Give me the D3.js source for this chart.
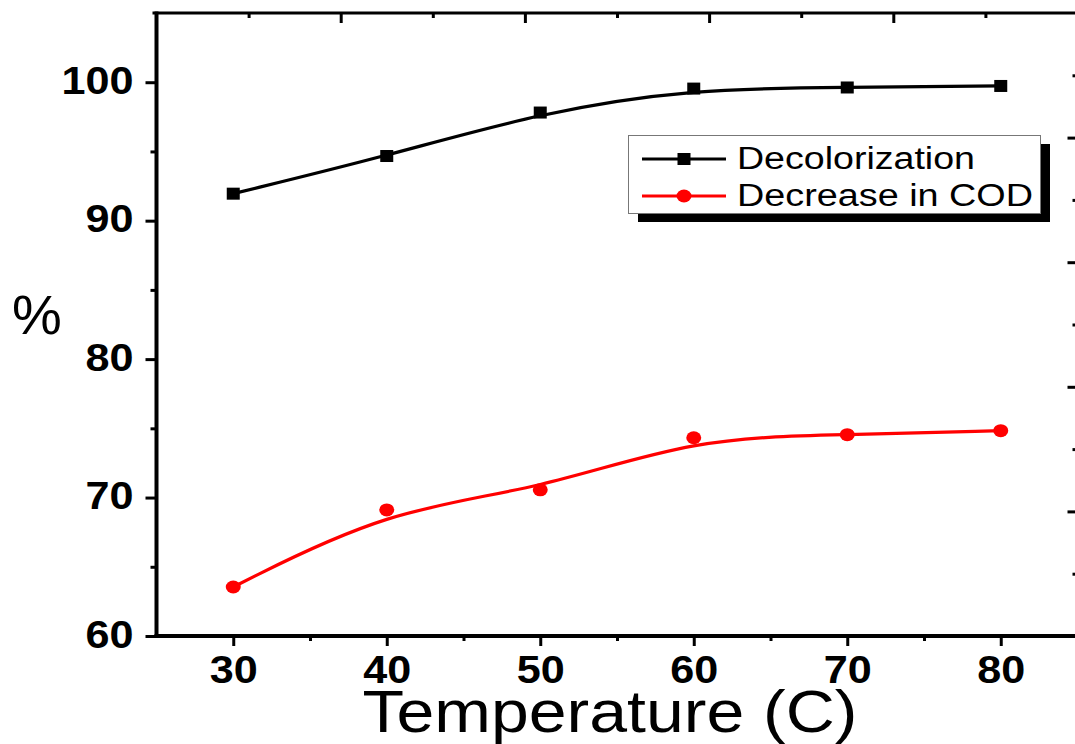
<!DOCTYPE html>
<html>
<head>
<meta charset="utf-8">
<script src="https://cdn.jsdelivr.net/npm/d3@7"></script>
<style>
  html, body { margin: 0; padding: 0; background: #fff; }
  svg { display: block; font-family: "Liberation Sans", Arial, sans-serif; }
</style>
</head>
<body>
<svg id="chart" width="1075" height="744"></svg>
<script>
// ---- data ----
const temperatures = [30, 40, 50, 60, 70, 80];
const decolorization = [91.95, 94.67, 97.81, 99.54, 99.62, 99.73];
const codDecrease = [63.54, 69.11, 70.56, 74.32, 74.54, 74.83];
const seriesNames = ["Decolorization", "Decrease in COD"];
const xTickValues = [30, 40, 50, 60, 70, 80];
const xMinorTicks = [35, 45, 55, 65, 75];
const yTickValues = [60, 70, 80, 90, 100];
const yMinorTicks = [65, 75, 85, 95];
const secMajor = [1, 2, 3, 4];
const secMinor = [0.5, 1.5, 2.5, 3.5, 4.5];
const xTitle = "Temperature (C)";
const yTitle = "%";

// ---- layout ----
const L = 156.5, R = 1077.5, T = 13, B = 636;
const svg = d3.select("#chart");
const x = d3.scaleLinear().domain([25, 85]).range([L, R]);
const y = d3.scaleLinear().domain([60, 105]).range([B, T]);
const xTop = d3.scaleLinear().domain([0, 5]).range([L, R]);
const yRight = d3.scaleLinear().domain([0, 5]).range([B, T]);

function styleAxis(g) {
  g.select(".domain").remove();
  g.selectAll(".tick line").attr("stroke", "#000").attr("stroke-width", 3);
}

// frame
svg.append("line").attr("x1", L - 4).attr("x2", R + 2).attr("y1", T).attr("y2", T)
  .attr("stroke", "#000").attr("stroke-width", 3);
svg.append("line").attr("x1", R).attr("x2", R).attr("y1", T).attr("y2", B)
  .attr("stroke", "#000").attr("stroke-width", 3);

// top axis (inward ticks, no labels)
svg.append("g").attr("transform", `translate(0,${T})`)
  .call(d3.axisTop(xTop).tickValues(secMajor).tickSize(-10).tickFormat(""))
  .call(styleAxis);
svg.append("g").attr("transform", `translate(0,${T})`)
  .call(d3.axisTop(xTop).tickValues(secMinor).tickSize(-5).tickFormat(""))
  .call(styleAxis);
// right axis (inward ticks, no labels)
svg.append("g").attr("transform", `translate(${R},0)`)
  .call(d3.axisRight(yRight).tickValues(secMajor).tickSize(-10).tickFormat(""))
  .call(styleAxis);
svg.append("g").attr("transform", `translate(${R},0)`)
  .call(d3.axisRight(yRight).tickValues(secMinor).tickSize(-5).tickFormat(""))
  .call(styleAxis);

// bottom axis
const gx = svg.append("g").attr("transform", `translate(0,${B})`)
  .call(d3.axisBottom(x).tickValues(xTickValues).tickSize(10).tickPadding(0).tickFormat(d3.format("d")))
  .call(styleAxis);
gx.selectAll(".tick text")
  .attr("fill", "#000").attr("font-size", 38).attr("font-weight", "bold")
  .attr("font-family", "Liberation Sans, Arial, sans-serif")
  .attr("dy", null).attr("y", 47)
  .attr("textLength", 48).attr("lengthAdjust", "spacingAndGlyphs");
svg.append("g").attr("transform", `translate(0,${B})`)
  .call(d3.axisBottom(x).tickValues(xMinorTicks).tickSize(5).tickFormat(""))
  .call(styleAxis);
svg.append("line").attr("x1", L - 2).attr("x2", R + 2).attr("y1", B).attr("y2", B)
  .attr("stroke", "#000").attr("stroke-width", 4);

// left axis
const gy = svg.append("g").attr("transform", `translate(${L},0)`)
  .call(d3.axisLeft(y).tickValues(yTickValues).tickSize(11).tickPadding(0).tickFormat(d3.format("d")))
  .call(styleAxis);
gy.selectAll(".tick text")
  .attr("fill", "#000").attr("font-size", 38).attr("font-weight", "bold")
  .attr("font-family", "Liberation Sans, Arial, sans-serif")
  .attr("dy", null).attr("x", -23).attr("y", 11)
  .attr("text-anchor", "end")
  .each(function(d) {
    d3.select(this).attr("textLength", String(d).length * 24).attr("lengthAdjust", "spacingAndGlyphs");
  });
svg.append("g").attr("transform", `translate(${L},0)`)
  .call(d3.axisLeft(y).tickValues(yMinorTicks).tickSize(6).tickFormat(""))
  .call(styleAxis);
svg.append("line").attr("x1", L).attr("x2", L).attr("y1", T - 1.5).attr("y2", B + 2)
  .attr("stroke", "#000").attr("stroke-width", 4);

// axis titles
svg.append("text").attr("x", 610).attr("y", 732).attr("text-anchor", "middle")
  .attr("font-size", 60).attr("fill", "#000")
  .attr("textLength", 495).attr("lengthAdjust", "spacingAndGlyphs")
  .text(xTitle);
svg.append("text").attr("x", 37).attr("y", 334).attr("text-anchor", "middle")
  .attr("font-size", 56).attr("fill", "#000")
  .text(yTitle);

// lines
const line = d3.line().curve(d3.curveBasis).x(d => x(d[0])).y(d => y(d[1]));
const blackData = temperatures.map((t, i) => [t, decolorization[i]]);
const redData = temperatures.map((t, i) => [t, codDecrease[i]]);

svg.append("path").datum(blackData).attr("d", line)
  .attr("fill", "none").attr("stroke", "#000").attr("stroke-width", 3.2);
svg.append("path").datum(redData).attr("d", line)
  .attr("fill", "none").attr("stroke", "#ff0000").attr("stroke-width", 3.2);

svg.selectAll(".sq").data(blackData).enter().append("rect")
  .attr("x", d => x(d[0]) - 6.5).attr("y", d => y(d[1]) - 6)
  .attr("width", 13).attr("height", 12).attr("fill", "#000");
svg.selectAll(".ci").data(redData).enter().append("ellipse")
  .attr("cx", d => x(d[0])).attr("cy", d => y(d[1]))
  .attr("rx", 7.5).attr("ry", 6.5).attr("fill", "#ff0000");

// legend
const lg = svg.append("g");
lg.append("rect").attr("x", 638).attr("y", 144).attr("width", 412).attr("height", 78).attr("fill", "#000");
lg.append("rect").attr("x", 628.5).attr("y", 135.5).attr("width", 412).attr("height", 78)
  .attr("fill", "#fff").attr("stroke", "#777").attr("stroke-width", 1);
const rows = [
  { name: seriesNames[0], color: "#000", shape: "sq", cy: 159, len: 238 },
  { name: seriesNames[1], color: "#ff0000", shape: "ci", cy: 196, len: 296 }
];
rows.forEach(r => {
  lg.append("line").attr("x1", 642).attr("x2", 726).attr("y1", r.cy).attr("y2", r.cy)
    .attr("stroke", r.color).attr("stroke-width", 3.2);
  if (r.shape === "sq") {
    lg.append("rect").attr("x", 684 - 6.5).attr("y", r.cy - 6).attr("width", 13).attr("height", 12).attr("fill", r.color);
  } else {
    lg.append("ellipse").attr("cx", 684).attr("cy", r.cy).attr("rx", 7.5).attr("ry", 6.5).attr("fill", r.color);
  }
  lg.append("text").attr("x", 737).attr("y", r.cy + 10).attr("font-size", 31).attr("fill", "#000")
    .attr("textLength", r.len).attr("lengthAdjust", "spacingAndGlyphs")
    .text(r.name);
});
</script>
</body>
</html>
